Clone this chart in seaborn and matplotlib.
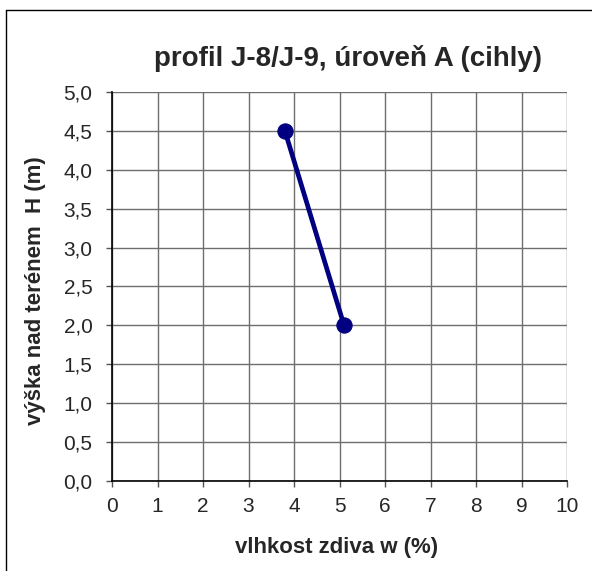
import matplotlib
matplotlib.use("Agg")
import matplotlib.pyplot as plt
from matplotlib.lines import Line2D
from matplotlib.ticker import FuncFormatter
import pandas as pd
import seaborn as sns

# data
vlhkost = [3.8, 5.1]
vyska = [4.5, 2.0]
x_ticks = list(range(0, 11))
y_ticks = [0.0, 0.5, 1.0, 1.5, 2.0, 2.5, 3.0, 3.5, 4.0, 4.5, 5.0]

sns.set_style("white")
plt.rcParams['font.family'] = ['Liberation Sans', 'DejaVu Sans']

df = pd.DataFrame({"w": vlhkost, "H": vyska})

fig = plt.figure(figsize=(5.92, 5.71), dpi=100)
ax = fig.add_axes([0.1892, 0.1576, 0.7686, 0.6813])

sns.lineplot(data=df, x="w", y="H", ax=ax, color="#000080", linewidth=3.4,
             marker="o", markersize=11, markeredgecolor="#000080",
             sort=False, zorder=3)

ax.set_xlim(0, 10)
ax.set_ylim(0, 5)
ax.set_xticks(x_ticks)
ax.set_yticks(y_ticks)
ax.yaxis.set_major_formatter(FuncFormatter(lambda v, _: f"{v:.1f}".replace(".", ",")))
ax.grid(True, color="#6e6e6e", linewidth=1)
ax.set_axisbelow(True)

for s in ["top", "right"]:
    ax.spines[s].set_visible(False)
for s in ["left", "bottom"]:
    ax.spines[s].set_color("black")
    ax.spines[s].set_linewidth(1.2)

ax.tick_params(axis="both", direction="out", length=4.5, width=1, color="#555555",
               labelsize=15, left=True, bottom=True)
ax.tick_params(axis="y", pad=9.5)
ax.tick_params(axis="x", pad=7)

ax.set_xlabel("")
ax.set_ylabel("")
fig.text(337 / 592, 1 - 548 / 571, "vlhkost zdiva w (%)", fontsize=16,
         fontweight="bold", ha="center", va="center")
fig.text(36 / 592, 1 - 291 / 571, "výška nad terénem  H (m)", fontsize=16,
         fontweight="bold", ha="center", va="center", rotation=90)
fig.text(347.5 / 592, 1 - 58 / 571, "profil J-8/J-9, úroveň A (cihly)", fontsize=20,
         fontweight="bold", ha="center", va="center")

# outer chart border (only top and left visible in the crop)
fig.add_artist(Line2D([6 / 592, 6 / 592], [0, 1 - 10 / 571], transform=fig.transFigure,
                      color="black", linewidth=1))
fig.add_artist(Line2D([6 / 592, 1], [1 - 10 / 571, 1 - 10 / 571], transform=fig.transFigure,
                      color="black", linewidth=1))

fig.savefig("out.png", dpi=100)
